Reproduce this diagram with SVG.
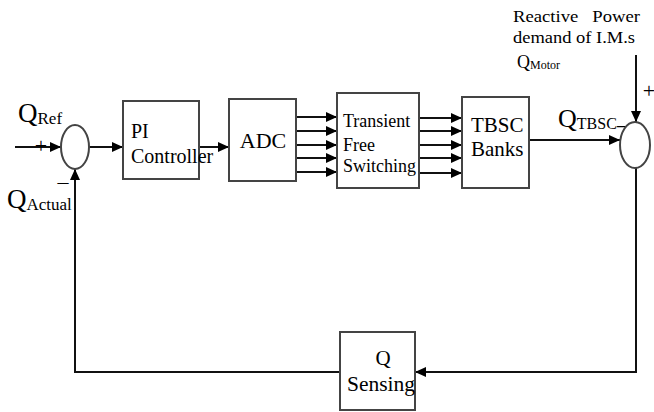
<svg xmlns="http://www.w3.org/2000/svg" width="654" height="412" viewBox="0 0 654 412">
<style>
.box{fill:#fff;stroke:#444;stroke-width:2}
.sum{fill:#fff;stroke:#444;stroke-width:2}
.ln{fill:none;stroke:#111;stroke-width:2}
.t{font-family:"Liberation Serif","Times New Roman",serif;fill:#000}
</style>
<defs>
<marker id="ah" markerUnits="userSpaceOnUse" markerWidth="12" markerHeight="10" refX="11" refY="5" orient="auto">
<path d="M0,0 L11,5 L0,10 Z" fill="#000"/>
</marker>
</defs>
<rect width="654" height="412" fill="#fff"/>

<g id="connectors">
<path class="ln" d="M15,147 H61" marker-end="url(#ah)"/>
<path class="ln" d="M89,147 H123" marker-end="url(#ah)"/>
<path class="ln" d="M199,147 H229" marker-end="url(#ah)"/>
<path class="ln" d="M296,117 H337" marker-end="url(#ah)"/>
<path class="ln" d="M296,131 H337" marker-end="url(#ah)"/>
<path class="ln" d="M296,145 H337" marker-end="url(#ah)"/>
<path class="ln" d="M296,158 H337" marker-end="url(#ah)"/>
<path class="ln" d="M296,172 H337" marker-end="url(#ah)"/>
<path class="ln" d="M419,118 H462" marker-end="url(#ah)"/>
<path class="ln" d="M419,131 H462" marker-end="url(#ah)"/>
<path class="ln" d="M419,145 H462" marker-end="url(#ah)"/>
<path class="ln" d="M419,158 H462" marker-end="url(#ah)"/>
<path class="ln" d="M419,173 H462" marker-end="url(#ah)"/>
<path class="ln" d="M529,140 H620" marker-end="url(#ah)"/>
<path class="ln" d="M636,55 V122" marker-end="url(#ah)"/>
<path class="ln" d="M636,168 V372 H415" marker-end="url(#ah)"/>
<path class="ln" d="M340,372 H75 V169" marker-end="url(#ah)"/>
</g>

<g id="sum1">
<ellipse class="sum" cx="75" cy="147" rx="14" ry="22"/>
<text class="t" x="41" y="153" font-size="22" text-anchor="middle">+</text>
<text class="t" x="63" y="189" font-size="22" text-anchor="middle">–</text>
</g>
<g id="qref">
<text class="t" x="18" y="122" font-size="27">Q<tspan font-size="17" dy="2">Ref</tspan></text>
</g>
<g id="qactual">
<text class="t" x="7" y="208" font-size="27">Q<tspan font-size="17" dy="2">Actual</tspan></text>
</g>

<g id="pi">
<rect class="box" x="123" y="101" width="76" height="78"/>
<text class="t" x="131" y="138" font-size="20">PI</text>
<text class="t" x="131" y="163" font-size="20">Controller</text>
</g>

<g id="adc">
<rect class="box" x="229" y="99" width="67" height="82"/>
<text class="t" x="263" y="148" font-size="22" text-anchor="middle">ADC</text>
</g>

<g id="tfs">
<rect class="box" x="337" y="93" width="82" height="95"/>
<text class="t" x="343" y="127" font-size="18">Transient</text>
<text class="t" x="343" y="151" font-size="18">Free</text>
<text class="t" x="343" y="172" font-size="18">Switching</text>
</g>

<g id="tbsc">
<rect class="box" x="462" y="97" width="67" height="91"/>
<text class="t" x="471" y="132" font-size="21">TBSC</text>
<text class="t" x="471" y="156" font-size="21">Banks</text>
</g>

<g id="qtbsc">
<text class="t" x="558" y="127" font-size="26">Q<tspan font-size="16" dy="2">TBSC</tspan></text>
<text class="t" x="617" y="124" font-size="24">_</text>
</g>

<g id="sum2">
<ellipse class="sum" cx="635" cy="145" rx="15" ry="23"/>
<text class="t" x="649" y="98" font-size="22" text-anchor="middle">+</text>
</g>

<g id="qmotor">
<text class="t" x="513" y="22" font-size="16" textLength="127" lengthAdjust="spacingAndGlyphs" xml:space="preserve">Reactive   Power</text>
<text class="t" x="513" y="43" font-size="16" textLength="122" lengthAdjust="spacingAndGlyphs">demand of I.M.s</text>
<text class="t" x="517" y="68" font-size="18">Q<tspan font-size="12" dy="1">Motor</tspan></text>
</g>

<g id="qsensing">
<rect class="box" x="340" y="332" width="75" height="78"/>
<text class="t" x="383" y="365" font-size="21" text-anchor="middle">Q</text>
<text class="t" x="347" y="391" font-size="21.5">Sensing</text>
</g>
</svg>
